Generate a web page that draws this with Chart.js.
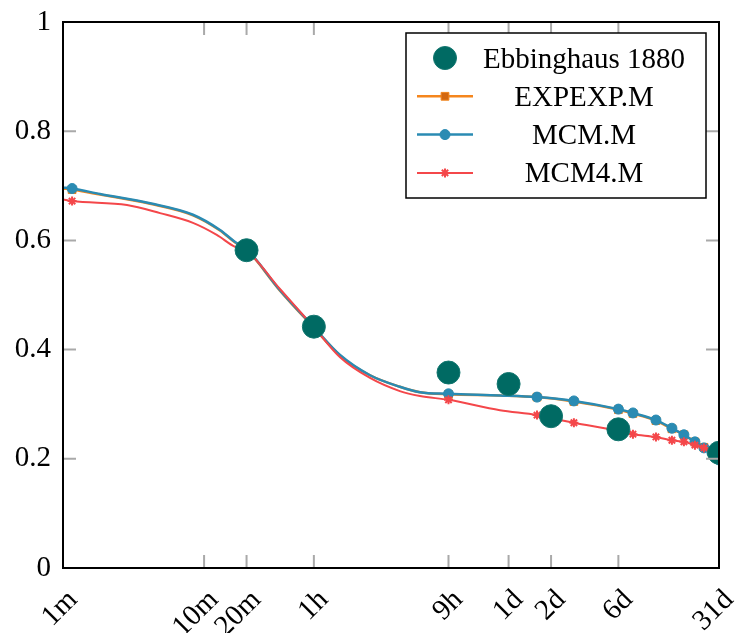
<!DOCTYPE html>
<html>
<head>
<meta charset="utf-8">
<script src="https://cdn.jsdelivr.net/npm/chart.js@4.4.1/dist/chart.umd.min.js"></script>
<style>
  html, body { margin: 0; padding: 0; background: #ffffff; }
  #wrap { width: 742px; height: 633px; }
</style>
</head>
<body>
<div id="wrap"><canvas id="c" width="742" height="633"></canvas></div>
<script>
// ---- data (time in minutes) ----
const xTickValues = [1, 10, 20, 60, 540, 1440, 2880, 8640, 44640];
const xTickLabels = ['1m', '10m', '20m', '1h', '9h', '1d', '2d', '6d', '31d'];
const yTickValues = [0, 0.2, 0.4, 0.6, 0.8, 1];
const yTickLabels = ['0', '0.2', '0.4', '0.6', '0.8', '1'];

const ebbTimes = [20, 60, 540, 1440, 2880, 8640, 44640];
const ebbValues = [0.582, 0.442, 0.358, 0.337, 0.278, 0.254, 0.211];

const modelTimes = [1, 1.16, 1.83, 4.14, 8.34, 12.97, 16.6, 20, 34.5, 60, 92, 150, 244, 339, 540, 1250, 2290, 4180, 8640, 10960, 15950, 20700, 25170, 30140, 34910, 39810, 44640];
const expexpValues = [0.695, 0.693, 0.684, 0.667, 0.646, 0.618, 0.596, 0.583, 0.508, 0.440, 0.389, 0.353, 0.332, 0.322, 0.318, 0.316, 0.313, 0.305, 0.290, 0.283, 0.270, 0.255, 0.244, 0.231, 0.221, 0.212, 0.202];
const mcmValues = [0.697, 0.695, 0.685, 0.668, 0.647, 0.619, 0.597, 0.584, 0.509, 0.441, 0.390, 0.353, 0.332, 0.322, 0.319, 0.316, 0.313, 0.306, 0.291, 0.284, 0.271, 0.256, 0.244, 0.231, 0.220, 0.211, 0.198];

const mcm4Times = [1, 1.16, 2.84, 4.87, 8.34, 12.3, 16.6, 20, 34.5, 60, 92, 150, 244, 339, 540, 1250, 2290, 3330, 4180, 8640, 10960, 15950, 20700, 25170, 30140, 34910, 39810, 44640];
const mcm4Values = [0.675, 0.672, 0.665, 0.650, 0.632, 0.610, 0.588, 0.581, 0.511, 0.441, 0.386, 0.348, 0.324, 0.315, 0.308, 0.289, 0.280, 0.271, 0.266, 0.251, 0.245, 0.240, 0.234, 0.231, 0.225, 0.220, 0.214, 0.211];

// times at which the model curves carry a marker
const markTimes = [1.16, 540, 2290, 4180, 8640, 10960, 15950, 20700, 25170, 30140, 34910, 39810, 44640];

const seriesNames = ['Ebbinghaus 1880', 'EXPEXP.M', 'MCM.M', 'MCM4.M'];

// ---- build ----
const pts = (ts, vs) => ts.map((t, i) => ({ x: t, y: vs[i] }));
const markR = r => ctx => (ctx.raw && markTimes.includes(ctx.raw.x)) ? r : 0;
const FONT = "'Liberation Serif', 'Times New Roman', serif";

const ebbStyle = { pointStyle: 'circle', radius: 11.5, fill: '#006a63', stroke: '#12766f', bw: 1, line: null };
const expStyle = { pointStyle: 'rect', radius: 5.5, fill: '#d2670f', stroke: '#f0851c', bw: 1, line: '#f5861d', lw: 2.5 };
const mcmStyle = { pointStyle: 'circle', radius: 5, fill: '#2a8bb3', stroke: '#2a8bb3', bw: 1, line: '#2a8bb3', lw: 2.5 };
const mcm4Style = { pointStyle: 'star', radius: 4.5, fill: '#f4474a', stroke: '#f4474a', bw: 2, line: '#f4474a', lw: 2 };
const styles = [ebbStyle, expStyle, mcmStyle, mcm4Style];

const datasets = [
  {
    label: seriesNames[1], data: pts(modelTimes, expexpValues),
    borderColor: expStyle.line, borderWidth: expStyle.lw, backgroundColor: expStyle.fill,
    pointBorderColor: expStyle.stroke, pointBorderWidth: 1, pointStyle: 'rect',
    pointRadius: markR(expStyle.radius), pointHoverRadius: markR(expStyle.radius),
    cubicInterpolationMode: 'monotone', fill: false, order: 4
  },
  {
    label: seriesNames[2], data: pts(modelTimes, mcmValues),
    borderColor: mcmStyle.line, borderWidth: mcmStyle.lw, backgroundColor: mcmStyle.fill,
    pointBorderColor: mcmStyle.stroke, pointBorderWidth: 1, pointStyle: 'circle',
    pointRadius: markR(mcmStyle.radius), pointHoverRadius: markR(mcmStyle.radius),
    cubicInterpolationMode: 'monotone', fill: false, order: 3
  },
  {
    label: seriesNames[3], data: pts(mcm4Times, mcm4Values),
    borderColor: mcm4Style.line, borderWidth: mcm4Style.lw, backgroundColor: mcm4Style.fill,
    pointBorderColor: mcm4Style.stroke, pointBorderWidth: mcm4Style.bw, pointStyle: 'star',
    pointRadius: markR(mcm4Style.radius), pointHoverRadius: markR(mcm4Style.radius),
    cubicInterpolationMode: 'monotone', fill: false, order: 2
  },
  {
    label: seriesNames[0], data: pts(ebbTimes, ebbValues),
    showLine: false, backgroundColor: ebbStyle.fill, borderColor: ebbStyle.stroke,
    pointBackgroundColor: ebbStyle.fill, pointBorderColor: ebbStyle.stroke, pointBorderWidth: 1,
    pointStyle: 'circle', pointRadius: ebbStyle.radius, pointHoverRadius: ebbStyle.radius, order: 1
  }
];

const framePlugin = {
  id: 'frame',
  afterDatasetsDraw(chart) {
    const { ctx, chartArea: a, scales } = chart;
    ctx.save();
    ctx.strokeStyle = '#a9a9a9';
    ctx.lineWidth = 2;
    const L = 13;
    xTickValues.forEach(v => {
      const x = scales.x.getPixelForValue(v);
      if (x <= a.left + 1 || x >= a.right - 1) return;
      ctx.beginPath();
      ctx.moveTo(x, a.bottom); ctx.lineTo(x, a.bottom - L);
      ctx.moveTo(x, a.top); ctx.lineTo(x, a.top + L);
      ctx.stroke();
    });
    yTickValues.forEach(v => {
      const y = scales.y.getPixelForValue(v);
      if (y <= a.top + 1 || y >= a.bottom - 1) return;
      ctx.beginPath();
      ctx.moveTo(a.left, y); ctx.lineTo(a.left + L, y);
      ctx.moveTo(a.right, y); ctx.lineTo(a.right - L, y);
      ctx.stroke();
    });
    ctx.strokeStyle = '#000';
    ctx.lineWidth = 2;
    ctx.strokeRect(a.left, a.top, a.right - a.left, a.bottom - a.top);
    ctx.restore();
  },
  afterDraw(chart) {
    const { ctx, chartArea: a } = chart;
    const w = 300, h = 165;
    const bx = a.right - 13 - w, by = a.top + 11;
    ctx.save();
    ctx.fillStyle = '#fff';
    ctx.fillRect(bx, by, w, h);
    ctx.strokeStyle = '#000';
    ctx.lineWidth = 1.5;
    ctx.strokeRect(bx, by, w, h);
    const rowH = 38.3;
    const textCx = bx + 178;
    const symCx = bx + 39;
    ctx.font = '29px ' + FONT;
    ctx.textAlign = 'center';
    ctx.textBaseline = 'alphabetic';
    seriesNames.forEach((name, i) => {
      const st = styles[i];
      const cy = by + 25 + i * rowH;
      if (st.line) {
        ctx.strokeStyle = st.line;
        ctx.lineWidth = st.lw;
        ctx.beginPath();
        ctx.moveTo(symCx - 28, cy); ctx.lineTo(symCx + 28, cy);
        ctx.stroke();
      }
      ctx.fillStyle = st.fill;
      ctx.strokeStyle = st.stroke;
      ctx.lineWidth = st.bw;
      Chart.helpers.drawPoint(ctx, { pointStyle: st.pointStyle, radius: st.radius, rotation: 0, borderWidth: st.bw }, symCx, cy);
      ctx.fillStyle = '#000';
      ctx.fillText(name, textCx, cy + 9.5);
    });
    ctx.restore();
  }
};

new Chart(document.getElementById('c'), {
  type: 'line',
  data: { datasets },
  options: {
    responsive: false,
    animation: false,
    events: [],
    layout: { padding: { left: 0, top: 22, right: 23, bottom: 0 } },
    plugins: { legend: { display: false }, tooltip: { enabled: false } },
    scales: {
      x: {
        type: 'logarithmic', min: 1, max: 44640,
        afterBuildTicks: s => { s.ticks = xTickValues.map(v => ({ value: v })); },
        afterFit: s => { s.height = 65; s.paddingLeft = 0; s.paddingRight = 0; },
        grid: { display: false, drawTicks: false },
        border: { display: false },
        ticks: {
          autoSkip: false, maxRotation: 45, minRotation: 45, padding: 15, labelOffset: 10,
          color: '#000', font: { family: FONT, size: 29 },
          callback: (v, i) => xTickLabels[i]
        }
      },
      y: {
        type: 'linear', min: 0, max: 1,
        afterBuildTicks: s => { s.ticks = yTickValues.map(v => ({ value: v })); },
        afterFit: s => { s.width = 63; s.paddingTop = 0; s.paddingBottom = 0; },
        grid: { display: false, drawTicks: false },
        border: { display: false },
        ticks: {
          padding: 12, color: '#000', font: { family: FONT, size: 29 },
          callback: (v, i) => yTickLabels[i]
        }
      }
    }
  },
  plugins: [framePlugin]
});
</script>
</body>
</html>
